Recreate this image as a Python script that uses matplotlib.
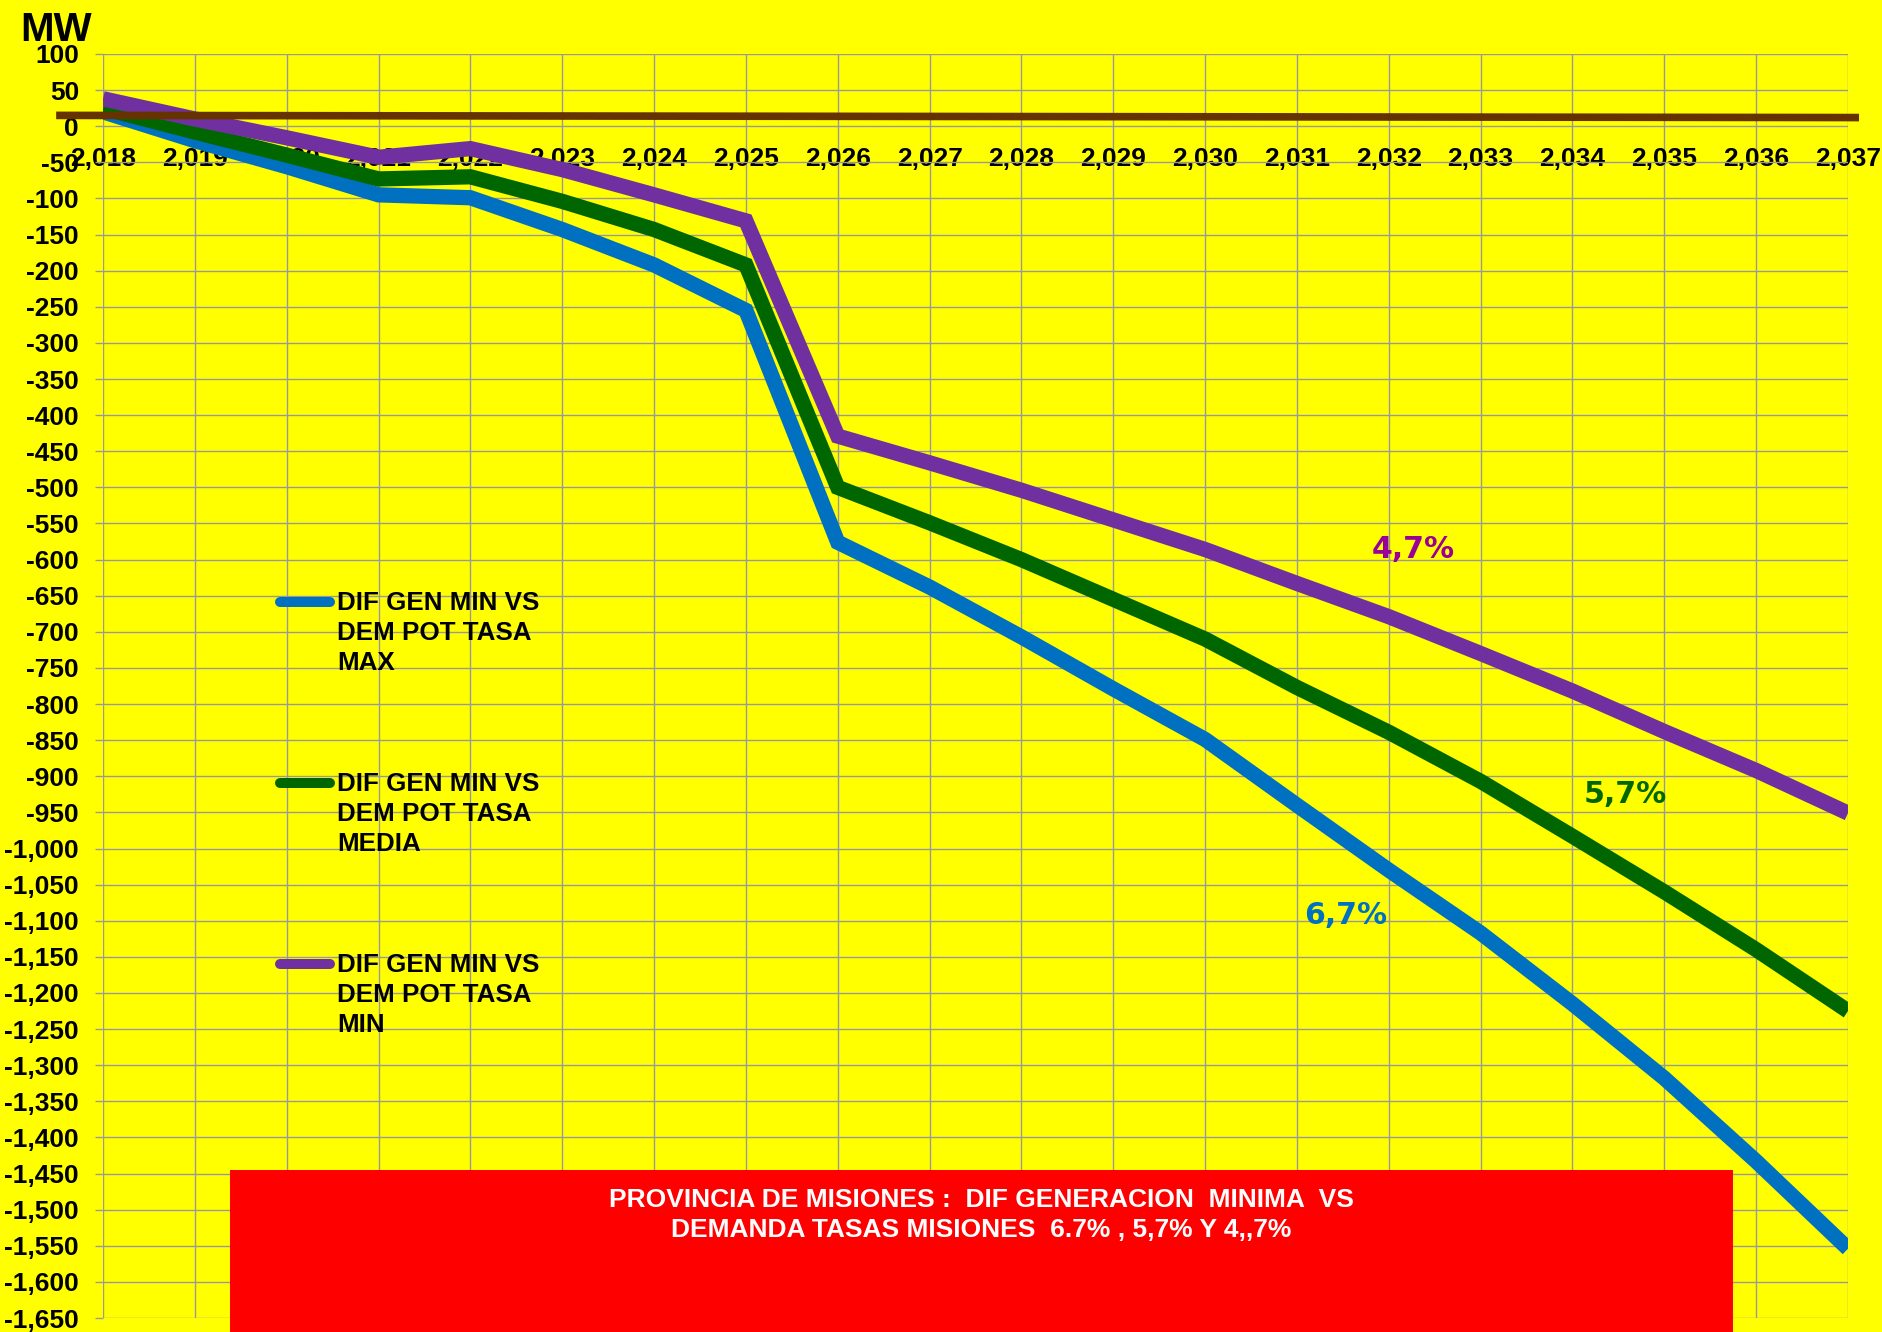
import matplotlib
matplotlib.use("Agg")
import matplotlib.pyplot as plt
from matplotlib.lines import Line2D
from matplotlib.patches import Rectangle
from matplotlib.ticker import FuncFormatter, MultipleLocator

# ---- data -----------------------------------------------------------------
years = list(range(2018, 2038))

dif_tasa_max = [20, -20, -56, -95, -99, -143, -192, -255, -576, -638,
                -707, -779, -849, -940, -1030, -1117, -1215, -1318, -1433, -1554]
dif_tasa_media = [25, -8, -40, -73, -70, -104, -143, -192, -500, -549,
                  -600, -655, -710, -777, -839, -907, -983, -1060, -1140, -1225]
dif_tasa_min = [38, 10, -16, -43, -31, -60, -95, -131, -429, -466,
                -504, -545, -586, -633, -679, -730, -782, -838, -892, -951]

# reference line across the chart
ref_x = [2017.49, 2037.12]
ref_y = [15, 12]

legend_labels = [
    ["DIF GEN MIN VS", "DEM POT TASA", "MAX"],
    ["DIF GEN MIN VS", "DEM POT TASA", "MEDIA"],
    ["DIF GEN MIN VS", "DEM POT TASA", "MIN"],
]
rate_labels = ["6,7%", "5,7%", "4,7%"]
rate_label_x = [2031.53, 2034.58, 2032.27]
rate_label_y = [-1093, -925, -586]

title_lines = [
    "PROVINCIA DE MISIONES :  DIF GENERACION  MINIMA  VS",
    "DEMANDA TASAS MISIONES  6.7% , 5,7% Y 4,,7%",
]

# ---- styling --------------------------------------------------------------
W_PX, H_PX = 1882, 1332
BG = "#FFFF00"
GRID = "#999999"
C_BLUE = "#0070C0"
C_GREEN = "#006600"
C_PURPLE = "#7030A0"
C_BROWN = "#663300"
TXT_COLORS = [C_BLUE, C_GREEN, "#990099"]
FONT = "Liberation Sans"


def fx(px):
    return px / W_PX


def fy(py):
    return 1 - py / H_PX


fig = plt.figure(figsize=(W_PX / 100, H_PX / 100), dpi=100, facecolor=BG)
ax = fig.add_axes([fx(103), fy(1318), fx(1848) - fx(103), fy(54) - fy(1318)])
ax.set_facecolor(BG)

ax.set_xlim(2018, 2037)
ax.set_ylim(-1650, 100)

for s in ax.spines.values():
    s.set_visible(False)
ax.spines["bottom"].set_position(("data", 0))

ax.xaxis.set_major_locator(MultipleLocator(1))
ax.yaxis.set_major_locator(MultipleLocator(50))
ax.xaxis.set_major_formatter(FuncFormatter(lambda v, p: f"{int(round(v)):,}"))
ax.yaxis.set_major_formatter(FuncFormatter(lambda v, p: f"{v:,.0f}"))

ax.grid(True, color=GRID, linewidth=1.0)
ax.set_axisbelow(True)
ax.tick_params(axis="x", length=0, pad=15.3)
ax.tick_params(axis="y", length=5.8, width=1.0, color=GRID, pad=11.5)
for lab in ax.get_xticklabels() + ax.get_yticklabels():
    lab.set_fontfamily(FONT)
    lab.set_fontweight("bold")
    lab.set_fontsize(19.0)

# ---- series ---------------------------------------------------------------
series = [dif_tasa_max, dif_tasa_media, dif_tasa_min]
colors = [C_BLUE, C_GREEN, C_PURPLE]
for vals, c in zip(series, colors):
    ax.plot(years, vals, color=c, linewidth=11, solid_capstyle="butt",
            solid_joinstyle="miter", zorder=3)

ax.plot(ref_x, ref_y, color=C_BROWN, linewidth=5.5, solid_capstyle="butt",
        zorder=4, clip_on=False)

for t, x, y, c in zip(rate_labels, rate_label_x, rate_label_y, TXT_COLORS):
    ax.text(x, y, t, color=c, fontsize=21.6, fontweight="bold",
            family="DejaVu Sans", ha="center", va="center", zorder=5)

# ---- y-axis unit ----------------------------------------------------------
fig.text(fx(20), fy(40.7), "MW", fontsize=29, fontweight="bold",
         family=FONT, ha="left", va="baseline")

# ---- legend ---------------------------------------------------------------
legend_y = [601.7, 782.7, 964.0]
for lines, c, yc in zip(legend_labels, colors, legend_y):
    fig.add_artist(Line2D([fx(280), fx(330)], [fy(yc), fy(yc)], color=c,
                          linewidth=7.2, solid_capstyle="round", zorder=6))
    for k, line in enumerate(lines):
        fig.text(fx(337), fy(yc + 8.5 + 30 * k), line, fontsize=18.7,
                 fontweight="bold", family=FONT, ha="left", va="baseline",
                 zorder=6)

# ---- title box ------------------------------------------------------------
fig.add_artist(Rectangle((fx(230), 0), fx(1733) - fx(230), fy(1170),
                         transform=fig.transFigure, facecolor="#FF0000",
                         edgecolor="none", zorder=7))
for k, line in enumerate(title_lines):
    fig.text(fx(981.5), fy(1206.7 + 30.5 * k), line, color="white",
             fontsize=19, fontweight="bold", family=FONT, ha="center",
             va="baseline", zorder=8)

fig.savefig("out.png", dpi=100, facecolor=BG)
